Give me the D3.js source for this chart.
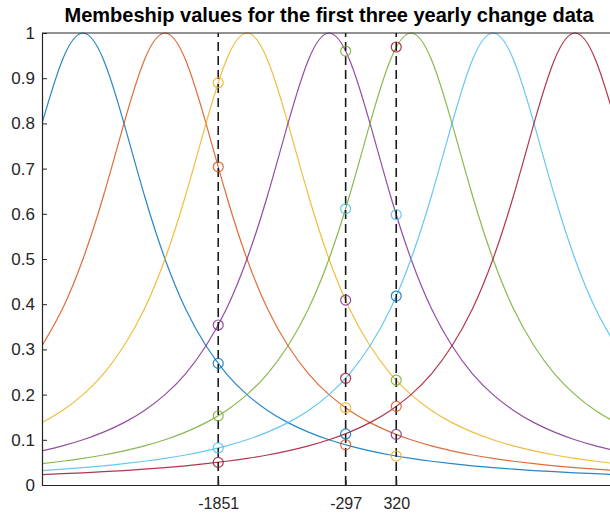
<!DOCTYPE html>
<html>
<head>
<meta charset="utf-8">
<script src="https://cdn.jsdelivr.net/npm/d3@7"></script>
<style>
  html, body { margin: 0; padding: 0; background: #fff; }
  svg { display: block; font-family: "Liberation Sans", Arial, Helvetica, sans-serif; }
</style>
</head>
<body>
<svg id="chart" width="610" height="515"></svg>
<script>
// ---- data ----
const titleText = "Membeship values for the first three yearly change data";
const xGrid = [-4000,-3750,-3500,-3250,-3000,-2750,-2500,-2250,-2000,-1750,-1500,-1250,-1000,-750,-500,-250,0,250,500,750,1000,1250,1500,1750,2000,2250,2500,2750,3000];
const mfBlue   = [0.8,0.941,1,0.941,0.8,0.64,0.5,0.39,0.308,0.246,0.2,0.165,0.138,0.117,0.1,0.0865,0.0755,0.0664,0.0588,0.0525,0.0471,0.0424,0.0385,0.035,0.032,0.0294,0.027,0.025,0.0231];
const mfOrange = [0.308,0.39,0.5,0.64,0.8,0.941,1,0.941,0.8,0.64,0.5,0.39,0.308,0.246,0.2,0.165,0.138,0.117,0.1,0.0865,0.0755,0.0664,0.0588,0.0525,0.0471,0.0424,0.0385,0.035,0.032];
const mfYellow = [0.138,0.165,0.2,0.246,0.308,0.39,0.5,0.64,0.8,0.941,1,0.941,0.8,0.64,0.5,0.39,0.308,0.246,0.2,0.165,0.138,0.117,0.1,0.0865,0.0755,0.0664,0.0588,0.0525,0.0471];
const mfPurple = [0.0755,0.0865,0.1,0.117,0.138,0.165,0.2,0.246,0.308,0.39,0.5,0.64,0.8,0.941,1,0.941,0.8,0.64,0.5,0.39,0.308,0.246,0.2,0.165,0.138,0.117,0.1,0.0865,0.0755];
const mfGreen  = [0.0471,0.0525,0.0588,0.0664,0.0755,0.0865,0.1,0.117,0.138,0.165,0.2,0.246,0.308,0.39,0.5,0.64,0.8,0.941,1,0.941,0.8,0.64,0.5,0.39,0.308,0.246,0.2,0.165,0.138];
const mfCyan   = [0.032,0.035,0.0385,0.0424,0.0471,0.0525,0.0588,0.0664,0.0755,0.0865,0.1,0.117,0.138,0.165,0.2,0.246,0.308,0.39,0.5,0.64,0.8,0.941,1,0.941,0.8,0.64,0.5,0.39,0.308];
const mfRed    = [0.0231,0.025,0.027,0.0294,0.032,0.035,0.0385,0.0424,0.0471,0.0525,0.0588,0.0664,0.0755,0.0865,0.1,0.117,0.138,0.165,0.2,0.246,0.308,0.39,0.5,0.64,0.8,0.941,1,0.941,0.8];

const markX = [-1851, -297, 320];
const mark1851 = [0.269, 0.704, 0.890, 0.354, 0.153, 0.082, 0.050];
const mark297  = [0.089, 0.171, 0.409, 0.960, 0.611, 0.236, 0.113];
const mark320  = [0.064, 0.112, 0.232, 0.598, 0.969, 0.418, 0.174];

const yTicks = [0,0.1,0.2,0.3,0.4,0.5,0.6,0.7,0.8,0.9,1];
const yTickLabels = ["0","0.1","0.2","0.3","0.4","0.5","0.6","0.7","0.8","0.9","1"];
const xTickLabels = ["-1851","-297","320"];

// ---- styling / layout ----
const colors = ["#0072BD","#D95319","#EDB120","#7E2F8E","#77AC30","#4DBEEE","#A2142F"];
const series = [mfBlue, mfOrange, mfYellow, mfPurple, mfGreen, mfCyan, mfRed];
const markCols = [mark1851, mark297, mark320];

const m = {left: 42, top: 33, right: 616, bottom: 485};
const svg = d3.select("#chart");

const x = d3.scaleLinear().domain([-4000, 3000]).range([m.left, m.right]);
const y = d3.scaleLinear().domain([0, 1]).range([m.bottom, m.top]);

svg.append("defs").append("clipPath").attr("id","clip")
  .append("rect").attr("x", m.left).attr("y", m.top - 1)
  .attr("width", m.right - m.left).attr("height", m.bottom - m.top + 1);

const plot = svg.append("g").attr("clip-path","url(#clip)");

const line = d3.line()
  .x((d, i) => x(xGrid[i]))
  .y(d => y(d))
  .curve(d3.curveNatural);

series.forEach((s, k) => {
  plot.append("path").datum(s)
    .attr("d", line)
    .attr("fill","none")
    .attr("stroke", colors[k])
    .attr("stroke-opacity", 0.85)
    .attr("stroke-width", 1.2);
});

// dashed vertical lines
markX.forEach(v => {
  svg.append("line")
    .attr("x1", x(v)).attr("x2", x(v))
    .attr("y1", y(0)).attr("y2", y(1))
    .attr("stroke", "#1a1a1a")
    .attr("stroke-width", 1.6)
    .attr("stroke-dasharray", "9,5");
});

// markers
markCols.forEach((vals, j) => {
  vals.forEach((v, k) => {
    svg.append("circle")
      .attr("cx", x(markX[j])).attr("cy", y(v))
      .attr("r", 5)
      .attr("fill","none")
      .attr("stroke", colors[(k + j) % 7])
      .attr("stroke-opacity", 0.85)
      .attr("stroke-width", 1.2);
  });
});

// axes
const yAxis = d3.axisLeft(y)
  .tickValues(yTicks)
  .tickFormat((d, i) => yTickLabels[i])
  .tickSizeInner(-5).tickSizeOuter(0).tickPadding(7);
const gy = svg.append("g").attr("transform", `translate(${m.left},0)`).call(yAxis);

const xAxis = d3.axisBottom(x)
  .tickValues(markX)
  .tickFormat((d, i) => xTickLabels[i])
  .tickSizeInner(-5).tickSizeOuter(0).tickPadding(13);
const gx = svg.append("g").attr("transform", `translate(0,${m.bottom})`).call(xAxis);

[gx, gy].forEach(g => {
  g.select(".domain").attr("stroke", "#262626").attr("stroke-width", 1.2);
  g.selectAll(".tick line").attr("stroke", "#262626");
  g.selectAll(".tick text").attr("fill", "#262626")
    .style("font-family", '"Liberation Sans", Arial, sans-serif');
});
gy.selectAll(".tick text").style("font-size", "17px");
gx.selectAll(".tick text").style("font-size", "16px");

// top border
svg.append("line")
  .attr("x1", m.left).attr("x2", m.right)
  .attr("y1", m.top).attr("y2", m.top)
  .attr("stroke", "#262626").attr("stroke-width", 1.2);

// title
svg.append("text")
  .attr("x", (m.left + m.right) / 2)
  .attr("y", 22)
  .attr("text-anchor", "middle")
  .style("font-size", "20px")
  .style("font-weight", "bold")
  .attr("fill", "#000")
  .text(titleText);
</script>
</body>
</html>
